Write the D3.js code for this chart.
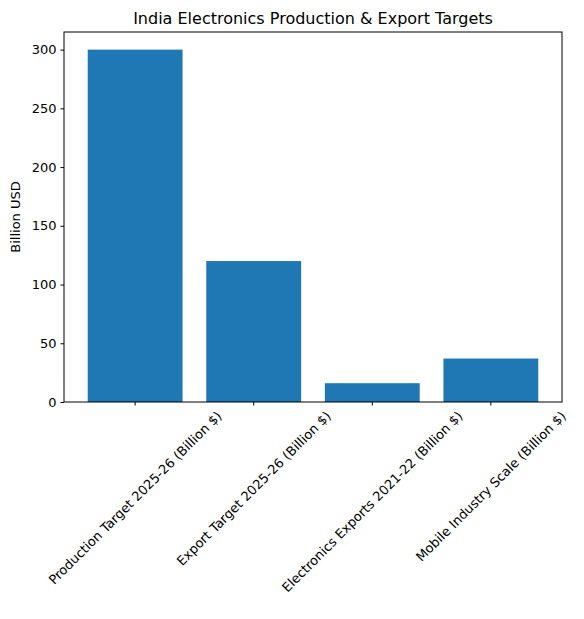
<!DOCTYPE html><html><head><script src="https://d3js.org/d3.v7.min.js"></script>
<style>body{margin:0;background:#fff}text{font-family:"DejaVu Sans",sans-serif}</style></head><body>
<script>
const categories=["Production Target 2025-26 (Billion $)","Export Target 2025-26 (Billion $)","Electronics Exports 2021-22 (Billion $)","Mobile Industry Scale (Billion $)"];
const values=[300,120,16,37];
const yTicks=[0,50,100,150,200,250,300];
const W=584,H=619,m={l:64,r:22,t:32,b:217};
const svg=d3.select("body").append("svg").attr("width",W).attr("height",H);
const x=d3.scaleBand().domain(categories).range([m.l,W-m.r]).paddingInner(0.2).paddingOuter(0.2);
const y=d3.scaleLinear().domain([0,315]).range([H-m.b,m.t]);
svg.selectAll("rect.bar").data(values).join("rect").attr("fill","#1f77b4")
 .attr("x",(d,i)=>x(categories[i])).attr("width",x.bandwidth()).attr("y",d=>y(d)).attr("height",d=>y(0)-y(d));
const xa=svg.append("g").attr("transform",`translate(0,${H-m.b})`).call(d3.axisBottom(x).tickSizeOuter(0).tickSize(3.5).tickPadding(4));
const s=Math.SQRT1_2,h=13;
xa.selectAll("text").attr("font-size",13).attr("fill","#000").attr("text-anchor","middle").attr("y",0).attr("dy","0.35em")
 .each(function(){const L=this.getComputedTextLength();const half=(L*s+h*s)/2;d3.select(this).attr("transform",`translate(0,${7+half}) rotate(-45)`);});
const ya=svg.append("g").attr("transform",`translate(${m.l},0)`).call(d3.axisLeft(y).tickValues(yTicks).tickSizeOuter(0).tickSize(3.5).tickPadding(4));
ya.selectAll("text").attr("font-size",13).attr("fill","#000");
[xa,ya].forEach(a=>{a.select(".domain").remove();a.selectAll("line").attr("stroke","#000")});
svg.append("rect").attr("x",m.l).attr("y",m.t).attr("width",W-m.l-m.r).attr("height",H-m.t-m.b).attr("fill","none").attr("stroke","#000").attr("stroke-width",1);
svg.append("text").attr("x",(m.l+W-m.r)/2).attr("y",m.t-8).attr("text-anchor","middle").attr("font-size",16).text("India Electronics Production & Export Targets");
svg.append("text").attr("transform",`translate(20,${(m.t+H-m.b)/2}) rotate(-90)`).attr("text-anchor","middle").attr("font-size",13).text("Billion USD");
</script></body></html>
